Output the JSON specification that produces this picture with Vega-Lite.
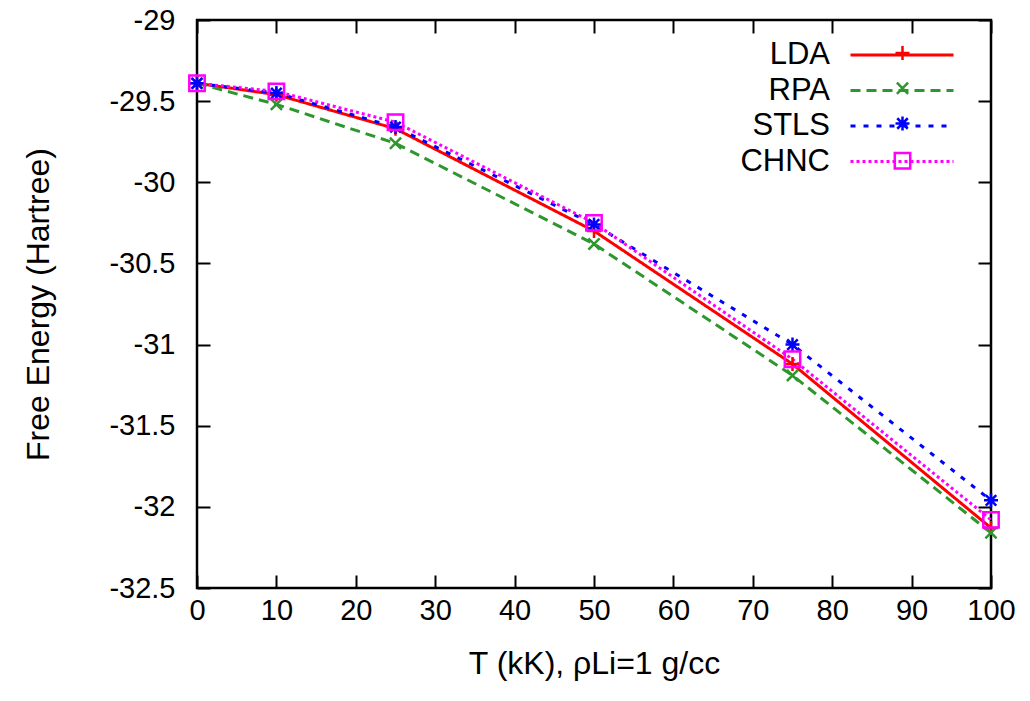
{
  "$schema": "https://vega.github.io/schema/vega-lite/v6.json",
  "width": 794,
  "height": 568,
  "autosize": {"type": "none"},
  "padding": {"left": 197, "top": 20, "right": 39, "bottom": 113},
  "background": "white",
  "config": {
    "font": "Liberation Sans",
    "view": {"stroke": "black", "strokeWidth": 2.5},
    "legend": {"padding": 0},
    "axis": {
      "grid": false,
      "domain": false,
      "tickColor": "black",
      "tickWidth": 2,
      "tickSize": -13,
      "labelFlush": false,
      "labelFont": "Liberation Sans",
      "labelFontSize": 29,
      "labelColor": "black",
      "titleFont": "Liberation Sans",
      "titleFontSize": 32,
      "titleFontWeight": "normal",
      "titleColor": "black"
    }
  },
  "data": {
    "values": [
      {"series": "LDA", "T": 0, "E": -29.39},
      {"series": "LDA", "T": 10, "E": -29.46},
      {"series": "LDA", "T": 25, "E": -29.67},
      {"series": "LDA", "T": 50, "E": -30.3},
      {"series": "LDA", "T": 75, "E": -31.12},
      {"series": "LDA", "T": 100, "E": -32.13},
      {"series": "RPA", "T": 0, "E": -29.39},
      {"series": "RPA", "T": 10, "E": -29.52},
      {"series": "RPA", "T": 25, "E": -29.76},
      {"series": "RPA", "T": 50, "E": -30.38},
      {"series": "RPA", "T": 75, "E": -31.19},
      {"series": "RPA", "T": 100, "E": -32.16},
      {"series": "STLS", "T": 0, "E": -29.39},
      {"series": "STLS", "T": 10, "E": -29.45},
      {"series": "STLS", "T": 25, "E": -29.66},
      {"series": "STLS", "T": 50, "E": -30.26},
      {"series": "STLS", "T": 75, "E": -31.0},
      {"series": "STLS", "T": 100, "E": -31.96},
      {"series": "CHNC", "T": 0, "E": -29.39},
      {"series": "CHNC", "T": 10, "E": -29.44},
      {"series": "CHNC", "T": 25, "E": -29.63},
      {"series": "CHNC", "T": 50, "E": -30.25},
      {"series": "CHNC", "T": 75, "E": -31.09},
      {"series": "CHNC", "T": 100, "E": -32.08}
    ]
  },
  "resolve": {"axis": {"x": "independent", "y": "independent"}},
  "layer": [
    {
      "mark": {"type": "line", "strokeWidth": 3},
      "encoding": {
        "x": {
          "field": "T", "type": "quantitative",
          "scale": {"domain": [0, 100], "nice": false, "zero": false},
          "axis": {"orient": "bottom", "values": [0,10,20,30,40,50,60,70,80,90,100], "labelPadding": 21, "title": "T (kK), ρLi=1 g/cc", "titlePadding": 23}
        },
        "y": {
          "field": "E", "type": "quantitative",
          "scale": {"domain": [-32.5, -29], "nice": false, "zero": false},
          "axis": {"orient": "left", "values": [-32.5,-32,-31.5,-31,-30.5,-30,-29.5,-29], "labelPadding": 35, "labelExpr": "datum.value < 0 ? '-' + format(-datum.value, '~g') : format(datum.value, '~g')", "title": "Free Energy (Hartree)", "titlePadding": 53}
        },
        "color": {
          "field": "series", "type": "nominal",
          "scale": {"domain": ["LDA", "RPA", "STLS", "CHNC"], "range": ["#ff0000", "#2e962e", "#0000ff", "#ff00ff"]},
          "legend": {
            "title": null,
            "orient": "none",
            "legendX": 652,
            "legendY": 17,
            "direction": "vertical",
            "labelFont": "Liberation Sans",
            "labelFontSize": 31,
            "labelColor": "black",
            "labelAlign": "right",
            "labelBaseline": "middle",
            "labelOffset": -125,
            "symbolType": "stroke",
            "symbolSize": 10609,
            "symbolStrokeWidth": 3,
            "rowPadding": 2.5,
            "encode": {
              "symbols": {"update": {"y": {"value": 18}}},
              "labels": {"update": {"y": {"value": 18}}}
            }
          }
        },
        "strokeDash": {
          "field": "series", "type": "nominal",
          "scale": {"domain": ["LDA", "RPA", "STLS", "CHNC"], "range": [[1, 0], [10, 6], [5, 8], [3, 3]]}
        }
      }
    },
    {
      "mark": {"type": "point", "filled": false, "strokeWidth": 2.5, "size": 196, "opacity": 1},
      "encoding": {
        "x": {
          "field": "T", "type": "quantitative",
          "axis": {"orient": "top", "values": [0,10,20,30,40,50,60,70,80,90,100], "labels": false, "title": null}
        },
        "y": {
          "field": "E", "type": "quantitative",
          "axis": {"orient": "right", "values": [-32.5,-32,-31.5,-31,-30.5,-30,-29.5,-29], "labels": false, "title": null}
        },
        "color": {"field": "series", "type": "nominal", "legend": null},
        "shape": {
          "field": "series", "type": "nominal",
          "scale": {"domain": ["LDA", "RPA", "STLS", "CHNC", " "], "range": ["M-1,0L1,0M0,-1L0,1", "M-0.8,-0.8L0.8,0.8M-0.8,0.8L0.8,-0.8", "M-1,0L1,0M0,-1L0,1M-0.75,-0.75L0.75,0.75M-0.75,0.75L0.75,-0.75", "M-1.1,-1.1L1.1,-1.1L1.1,1.1L-1.1,1.1Z", "M-1,0L1,0"]},
          "legend": {
            "title": null,
            "orient": "none",
            "legendX": 697,
            "legendY": 24.5,
            "direction": "vertical",
            "values": ["LDA", "RPA", "STLS", "CHNC"],
            "labelExpr": "''",
            "labelFontSize": 1,
            "symbolSize": 196,
            "symbolStrokeWidth": 2.5,
            "symbolFillColor": "transparent",
            "symbolStrokeColor": {"expr": "datum.value === 'LDA' ? '#ff0000' : datum.value === 'RPA' ? '#2e962e' : datum.value === 'STLS' ? '#0000ff' : '#ff00ff'"},
            "symbolOpacity": 1,
            "rowPadding": 11.25,
            "encode": {
              "symbols": {
                "update": {
                  "y": {"value": 18},
                  "fill": {"value": "transparent"},
                  "opacity": {"value": 1}
                }
              },
              "labels": {"update": {"y": {"value": 18}}}
            }
          }
        }
      }
    }
  ]
}
